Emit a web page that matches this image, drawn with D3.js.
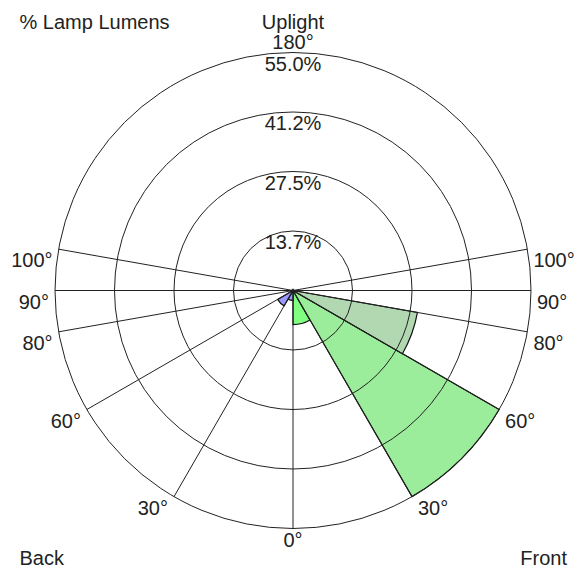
<!DOCTYPE html>
<html>
<head>
<meta charset="utf-8">
<script src="https://d3js.org/d3.v7.min.js"></script>
<style>
  body { margin: 0; background: #fff; }
  text { font-family: "Liberation Sans", Arial, sans-serif; font-size: 20px; fill: #222; }
</style>
</head>
<body>
<div id="vis"></div>
<script>

// create frame constants
const FRAME_WIDTH = 587;
const FRAME_HEIGHT = 570;
const CX = 293;
const CY = 290.5;
const RADIUS = 238;

// zones, angles in degrees from nadir (0) to zenith (180)
const ZONE_FROM = [0, 30, 60, 80];
const ZONE_TO = [30, 60, 80, 90];
const FRONT_VALUES = [7.9, 55.0, 29.2, 0];
const BACK_VALUES = [2.3, 4.1, 0, 0];

// grid rings and spokes
const MAX_VALUE = 55;
const RING_VALUES = [13.75, 27.5, 41.25, 55];
const RING_LABELS = ["13.7%", "27.5%", "41.2%", "55.0%"];
const SPOKE_ANGLES = [0, 30, 60, 80, 90, 100];
const SPOKE_LABELS = ["0°", "30°", "60°", "80°", "90°", "100°"];

// zone colours
const FRONT_COLORS = ["#80ff80", "#9bed9b", "#b2d8b2", "#c8e0c8"];
const BACK_COLORS = ["#9999ff", "#9999ff", "#aaaaee", "#bbbbdd"];

const RAD = Math.PI / 180;

// frame to append svg to
const FRAME = d3.select("#vis")
                .append("svg")
                  .attr("width", FRAME_WIDTH)
                  .attr("height", FRAME_HEIGHT);

// radial scale
const R_SCALE = d3.scaleLinear()
                  .domain([0, MAX_VALUE])
                  .range([0, RADIUS]);

const PLOT = FRAME.append("g")
                  .attr("transform", "translate(" + CX + "," + CY + ")");

// build zone rows, side +1 = front (right), -1 = back (left)
const zones = [];
ZONE_FROM.forEach((f, i) => {
  zones.push({side: 1, from: f, to: ZONE_TO[i], value: FRONT_VALUES[i], color: FRONT_COLORS[i]});
  zones.push({side: -1, from: f, to: ZONE_TO[i], value: BACK_VALUES[i], color: BACK_COLORS[i]});
});

// d3 arc angle: 0 is up, clockwise
function arcAngle(deg, side) {
  return Math.PI - side * deg * RAD;
}

const ARC = d3.arc()
              .innerRadius(0)
              .outerRadius((d) => { return R_SCALE(d.value); })
              .startAngle((d) => { return arcAngle(d.from, d.side); })
              .endAngle((d) => { return arcAngle(d.to, d.side); });

// draw wedges
PLOT.selectAll(".zone")
    .data(zones.filter((d) => { return d.value > 0; }))
    .enter()
    .append("path")
      .attr("class", "zone")
      .attr("d", ARC)
      .attr("fill", (d) => { return d.color; })
      .attr("stroke", "#111")
      .attr("stroke-width", 1.2);

// rings
PLOT.selectAll(".ring")
    .data(RING_VALUES)
    .enter()
    .append("circle")
      .attr("class", "ring")
      .attr("r", (d) => { return R_SCALE(d); })
      .attr("fill", "none")
      .attr("stroke", "#222")
      .attr("stroke-width", 1);

// spokes on both sides
const spokes = [];
SPOKE_ANGLES.forEach((a) => {
  spokes.push({angle: a, side: 1});
  if (a > 0) { spokes.push({angle: a, side: -1}); }
});

PLOT.selectAll(".spoke")
    .data(spokes)
    .enter()
    .append("line")
      .attr("class", "spoke")
      .attr("x1", 0)
      .attr("y1", 0)
      .attr("x2", (d) => { return d.side * R_SCALE(MAX_VALUE) * Math.sin(d.angle * RAD); })
      .attr("y2", (d) => { return R_SCALE(MAX_VALUE) * Math.cos(d.angle * RAD); })
      .attr("stroke", "#222")
      .attr("stroke-width", 1);

// spoke labels
PLOT.selectAll(".spoke-label")
    .data(spokes)
    .enter()
    .append("text")
      .attr("class", "spoke-label")
      .attr("x", (d) => {
        const x = R_SCALE(MAX_VALUE) * Math.sin(d.angle * RAD);
        return d.angle === 0 ? 0 : d.side * (x + 6);
      })
      .attr("y", (d) => { return R_SCALE(MAX_VALUE) * Math.cos(d.angle * RAD) + 18; })
      .attr("text-anchor", (d) => {
        if (d.angle === 0) { return "middle"; }
        return d.side > 0 ? "start" : "end";
      })
      .text((d) => { return SPOKE_LABELS[SPOKE_ANGLES.indexOf(d.angle)]; });

// ring labels at the top
PLOT.selectAll(".ring-label")
    .data(RING_VALUES)
    .enter()
    .append("text")
      .attr("class", "ring-label")
      .attr("x", 0)
      .attr("y", (d) => { return -R_SCALE(d) + 18; })
      .attr("text-anchor", "middle")
      .text((d, i) => { return RING_LABELS[i]; });

// zenith label
PLOT.append("text")
    .attr("x", 0)
    .attr("y", -R_SCALE(MAX_VALUE) - 4)
    .attr("text-anchor", "middle")
    .text("180°");

// titles
FRAME.append("text")
     .attr("x", CX)
     .attr("y", 28.5)
     .attr("text-anchor", "middle")
     .text("Uplight");

FRAME.append("text")
     .attr("x", 19.5)
     .attr("y", 29)
     .text("% Lamp Lumens");

FRAME.append("text")
     .attr("x", 19.5)
     .attr("y", 565)
     .text("Back");

FRAME.append("text")
     .attr("x", 567)
     .attr("y", 565)
     .attr("text-anchor", "end")
     .text("Front");

</script>
</body>
</html>
